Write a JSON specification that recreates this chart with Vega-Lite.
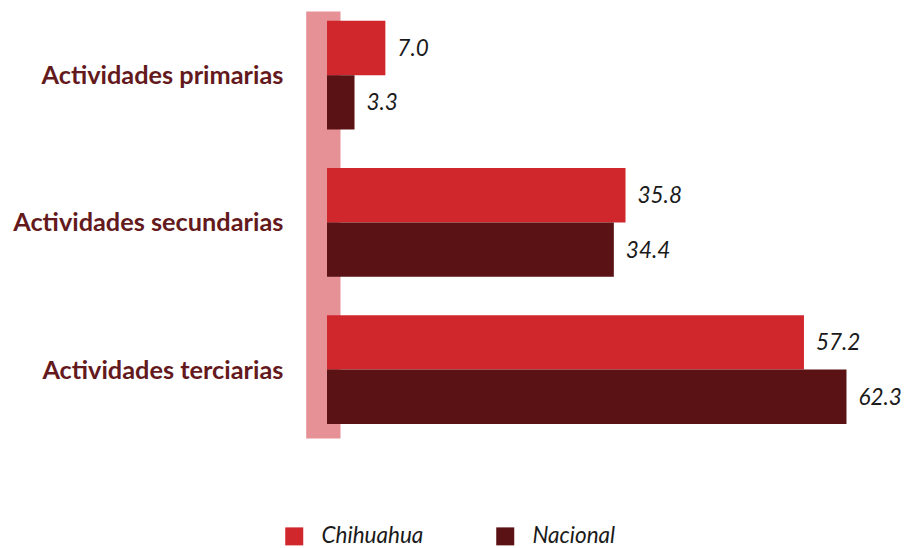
{
  "$schema": "https://vega.github.io/schema/vega-lite/v6.json",
  "width": 542,
  "height": 427,
  "autosize": {"type": "none"},
  "padding": {"left": 327, "top": 11, "right": 40, "bottom": 110},
  "background": "white",
  "config": {"view": {"stroke": null}, "font": "Lato"},
  "data": {"values": [
    {"actividad": "Actividades primarias", "serie": "Chihuahua", "valor": 7.0},
    {"actividad": "Actividades primarias", "serie": "Nacional", "valor": 3.3},
    {"actividad": "Actividades secundarias", "serie": "Chihuahua", "valor": 35.8},
    {"actividad": "Actividades secundarias", "serie": "Nacional", "valor": 34.4},
    {"actividad": "Actividades terciarias", "serie": "Chihuahua", "valor": 57.2},
    {"actividad": "Actividades terciarias", "serie": "Nacional", "valor": 62.3}
  ]},
  "encoding": {
    "y": {
      "field": "actividad", "type": "nominal", "sort": null,
      "scale": {"paddingInner": 0.26, "paddingOuter": 0.08, "align": 0.41},
      "axis": {
        "title": null, "ticks": false, "tickSize": 0, "offset": 4.15,
        "domainColor": "#e69196", "domainWidth": 34.3, "domainCap": "butt",
        "labelPadding": 40, "labelFont": "Lato", "labelFontWeight": "bold",
        "labelFontSize": 25.3, "labelColor": "#641a1d", "labelLimit": 400,
        "labelBaseline": "alphabetic", "labelOffset": 9
      }
    },
    "yOffset": {"field": "serie", "type": "nominal", "scale": {"paddingInner": 0, "paddingOuter": 0}},
    "x": {"field": "valor", "type": "quantitative", "scale": {"domain": [0, 65], "nice": false}, "axis": null}
  },
  "layer": [
    {
      "mark": {"type": "bar"},
      "encoding": {
        "color": {
          "field": "serie", "type": "nominal",
          "scale": {"domain": ["Chihuahua", "Nacional"], "range": ["#d0272d", "#5a1214"]},
          "legend": {
            "title": null, "orient": "none", "direction": "horizontal",
            "legendX": -44, "legendY": 514,
            "symbolType": "square", "symbolSize": 324, "symbolStrokeWidth": 0,
            "labelFont": "Lato", "labelFontStyle": "italic", "labelFontSize": 22.5,
            "labelColor": "#1a1a1a", "labelOffset": 16, "columnPadding": 70
          }
        }
      }
    },
    {
      "mark": {"type": "text", "align": "left", "baseline": "alphabetic", "dx": 12, "dy": 8,
               "font": "Lato", "fontStyle": "italic", "fontSize": 22.5, "color": "#1a1a1a"},
      "encoding": {"text": {"field": "valor", "type": "quantitative", "format": ".1f"}}
    }
  ]
}
